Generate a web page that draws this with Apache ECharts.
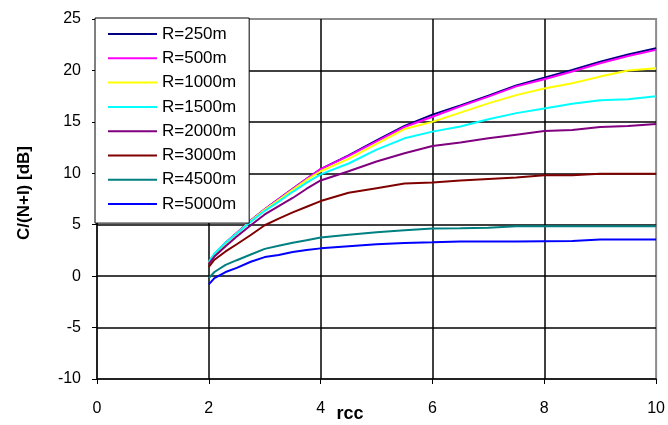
<!DOCTYPE html>
<html>
<head>
<meta charset="utf-8">
<script src="https://cdn.jsdelivr.net/npm/echarts@6/dist/echarts.min.js"></script>
<style>
html,body{margin:0;padding:0;background:#fff;}
#c{width:668px;height:425px;}
</style>
</head>
<body>
<div id="c"></div>
<script>
const rcc = [2, 2.1, 2.3, 2.5, 2.75, 3, 3.25, 3.5, 3.75, 4, 4.5, 5, 5.5, 6, 6.5, 7, 7.5, 8, 8.5, 9, 9.5, 10];
const seriesNames = ['R=250m','R=500m','R=1000m','R=1500m','R=2000m','R=3000m','R=4500m','R=5000m'];
const r250  = [1.3, 2.1, 3.25, 4.2, 5.4, 6.5, 7.5, 8.5, 9.45, 10.4, 11.75, 13.2, 14.6, 15.7, 16.6, 17.55, 18.55, 19.3, 20.05, 20.85, 21.55, 22.15];
const r500  = [1.3, 2.1, 3.25, 4.2, 5.4, 6.5, 7.5, 8.5, 9.45, 10.4, 11.7, 13.1, 14.5, 15.5, 16.5, 17.45, 18.45, 19.15, 19.9, 20.7, 21.4, 22.0];
const r1000 = [1.3, 2.1, 3.2, 4.15, 5.35, 6.45, 7.4, 8.4, 9.35, 10.2, 11.4, 12.87, 14.3, 15.0, 15.9, 16.8, 17.6, 18.25, 18.75, 19.4, 20.0, 20.2];
const r1500 = [1.4, 2.2, 3.25, 4.15, 5.3, 6.35, 7.25, 8.2, 9.1, 9.9, 10.95, 12.3, 13.4, 14.05, 14.55, 15.25, 15.85, 16.3, 16.75, 17.1, 17.2, 17.5];
const r2000 = [1.2, 1.9, 2.9, 3.85, 4.95, 6.0, 6.8, 7.6, 8.5, 9.3, 10.2, 11.15, 11.95, 12.65, 13.0, 13.4, 13.75, 14.1, 14.2, 14.5, 14.6, 14.8];
const r3000 = [0.9, 1.6, 2.4, 3.1, 4.0, 4.95, 5.6, 6.2, 6.75, 7.3, 8.1, 8.55, 9.0, 9.1, 9.3, 9.45, 9.6, 9.8, 9.82, 9.95, 9.95, 9.95];
const r4500 = [-0.2, 0.4, 1.1, 1.55, 2.1, 2.65, 2.95, 3.25, 3.5, 3.75, 4.03, 4.27, 4.45, 4.62, 4.65, 4.7, 4.84, 4.84, 4.84, 4.84, 4.84, 4.84];
const r5000 = [-0.8, -0.2, 0.4, 0.8, 1.4, 1.85, 2.05, 2.35, 2.55, 2.7, 2.9, 3.1, 3.23, 3.3, 3.38, 3.38, 3.38, 3.4, 3.42, 3.57, 3.57, 3.57];
const colors = ['#000080','#FF00FF','#FFFF00','#00FFFF','#800080','#800000','#008080','#0000FF'];
const xTicks = {min: 0, max: 10, interval: 2};
const yTicks = {min: -10, max: 25, interval: 5};
const xTitle = 'rcc';
const yTitle = 'C/(N+I) [dB]';

const allValues = [r250, r500, r1000, r1500, r2000, r3000, r4500, r5000];
const FONT = 'Arial, "Liberation Sans", sans-serif';

const chart = echarts.init(document.getElementById('c'), null, {renderer: 'canvas'});
chart.setOption({
  backgroundColor: '#ffffff',
  animation: false,
  color: colors,
  grid: {left: 97, right: 10, top: 19, bottom: 46, show: true, borderColor: '#8c8c8c', borderWidth: 2, backgroundColor: 'transparent'},
  legend: {
    orient: 'vertical', left: 95, top: 18,
    data: seriesNames,
    icon: 'rect', itemWidth: 49, itemHeight: 2, itemGap: 6.3,
    padding: [7, 13, 10, 13],
    backgroundColor: '#ffffff', borderColor: '#000', borderWidth: 1, borderRadius: 0,
    textStyle: {fontFamily: FONT, fontSize: 17, color: '#000', lineHeight: 18}
  },
  xAxis: {
    type: 'value', min: xTicks.min, max: xTicks.max, interval: xTicks.interval,
    axisLine: {show: true, onZero: false, lineStyle: {color: '#000', width: 1.5}},
    axisTick: {show: true, inside: false, length: 5, lineStyle: {color: '#000'}},
    axisLabel: {fontFamily: FONT, fontSize: 16, color: '#000', margin: 22},
    splitLine: {show: true, showMinLine: false, showMaxLine: false, lineStyle: {color: '#000', width: 1.5}}
  },
  yAxis: {
    type: 'value', min: yTicks.min, max: yTicks.max, interval: yTicks.interval,
    axisLine: {show: true, onZero: false, lineStyle: {color: '#000', width: 1.5}},
    axisTick: {show: true, inside: false, length: 5, lineStyle: {color: '#000'}},
    axisLabel: {fontFamily: FONT, fontSize: 16, color: '#000', margin: 16},
    splitLine: {show: true, showMinLine: false, showMaxLine: false, lineStyle: {color: '#000', width: 1.5}}
  },
  graphic: [
    {type: 'text', x: 350, y: 414, style: {text: xTitle, font: 'bold 18px ' + FONT, fill: '#000', align: 'center', verticalAlign: 'middle'}},
    {type: 'text', x: 24, y: 193, rotation: Math.PI / 2, style: {text: yTitle, font: 'bold 17px ' + FONT, fill: '#000', align: 'center', verticalAlign: 'middle'}}
  ],
  series: seriesNames.map((n, i) => ({
    name: n, type: 'line', showSymbol: false, smooth: false,
    lineStyle: {width: 2, color: colors[i]},
    data: rcc.map((x, j) => [x, allValues[i][j]])
  }))
});
</script>
</body>
</html>
